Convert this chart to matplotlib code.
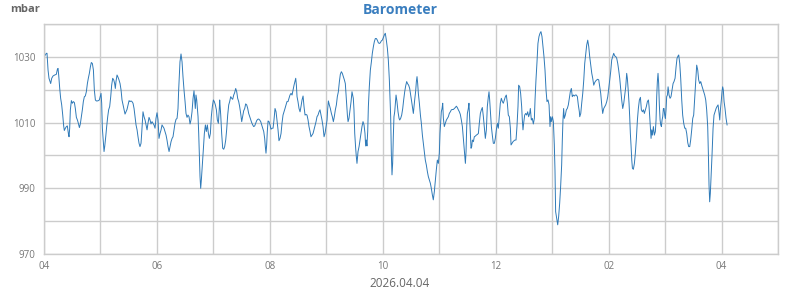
import matplotlib
matplotlib.use("Agg")
import matplotlib.pyplot as plt
import matplotlib.dates as mdates
import pandas as pd

plt.rcParams['font.family'] = ['Open Sans', 'DejaVu Sans']

# minutes after 04:00, pressure in mbar
seg_0400 = [(0.7, 1030.3), (2.5, 1031.1), (3.2, 1031.1), (4.3, 1026.0), (5.3, 1023.5), (7.1, 1021.9),
            (8.2, 1023.5), (9.6, 1024.2), (11.4, 1024.5), (13.1, 1024.7), (14.2, 1026.2), (14.9, 1026.5),
            (15.6, 1024.5), (16.7, 1020.4), (17.7, 1017.4), (18.8, 1015.4), (19.9, 1012.3), (20.9, 1009.0),
            (21.6, 1007.6), (22.7, 1008.3), (23.8, 1008.8), (24.8, 1009.0), (25.9, 1006.7), (26.6, 1005.7),
            (27.3, 1008.3), (28.0, 1013.9), (29.1, 1016.7), (30.1, 1015.9), (31.2, 1016.4), (32.3, 1016.1),
            (33.3, 1014.3), (34.4, 1011.6), (35.5, 1010.8), (36.5, 1009.8), (37.6, 1008.5), (38.6, 1009.6),
            (39.7, 1011.8), (40.8, 1014.0), (41.8, 1016.4), (42.9, 1017.9), (43.9, 1018.1), (45.0, 1019.4),
            (46.1, 1021.9), (47.1, 1023.5), (48.2, 1025.0), (49.3, 1027.0), (50.3, 1028.3), (51.4, 1028.0),
            (52.5, 1026.0), (53.5, 1019.9), (54.6, 1016.9), (55.6, 1016.6), (56.7, 1016.6), (57.8, 1016.7),
            (58.8, 1016.9), (59.9, 1018.1), (60.6, 1018.9), (61.3, 1015.9), (62.0, 1008.3), (63.1, 1003.7),
            (63.8, 1001.2), (64.5, 1002.7), (65.6, 1005.7), (66.6, 1008.8), (67.7, 1011.8), (68.7, 1013.9),
            (69.8, 1014.9), (70.9, 1017.9), (71.9, 1021.4), (73.0, 1023.5), (74.1, 1023.0), (75.1, 1021.9),
            (75.8, 1020.4), (76.5, 1022.5), (77.6, 1024.5), (78.7, 1023.8), (79.7, 1023.0), (80.8, 1021.9),
            (81.9, 1019.9), (82.9, 1016.9), (84.0, 1015.4), (85.0, 1013.9), (86.1, 1012.6), (87.2, 1013.3),
            (88.2, 1014.0), (89.3, 1015.4), (90.4, 1016.7), (91.4, 1016.4), (92.5, 1016.6), (93.5, 1016.4),
            (94.6, 1015.9), (95.7, 1014.3), (96.7, 1011.8), (97.8, 1009.3), (98.9, 1007.8), (99.9, 1005.7),
            (101.0, 1003.7), (102.0, 1002.7), (103.1, 1003.7), (103.8, 1006.7), (104.5, 1010.3), (105.2, 1013.3),
            (106.3, 1011.8), (107.4, 1010.8), (108.4, 1009.3), (109.5, 1007.8), (110.5, 1009.8), (111.6, 1011.6),
            (112.7, 1010.8), (113.7, 1009.6), (114.8, 1010.3), (115.9, 1009.8), (116.9, 1009.3), (118.0, 1008.3),
            (119.0, 1011.3), (120.1, 1013.0), (121.2, 1010.8), (122.2, 1005.2), (123.3, 1006.7), (124.4, 1007.8),
            (125.4, 1009.3), (126.5, 1008.8), (127.5, 1008.3), (128.6, 1007.3), (129.7, 1006.2), (130.7, 1004.7),
            (131.8, 1002.7), (132.9, 1001.2), (133.9, 1002.7), (135.0, 1004.2), (136.1, 1005.2), (137.1, 1005.7),
            (138.2, 1007.8), (139.2, 1009.8), (140.3, 1011.0), (141.4, 1011.3), (142.4, 1014.3), (143.1, 1019.9),
            (143.8, 1024.0), (144.5, 1028.5), (145.6, 1030.9), (146.7, 1028.5), (147.7, 1024.0), (148.8, 1019.9),
            (149.9, 1016.4), (150.9, 1012.8), (152.0, 1011.6), (153.0, 1012.3), (154.1, 1011.8), (155.2, 1009.6),
            (156.2, 1010.8), (157.3, 1013.3), (158.4, 1017.4), (159.4, 1019.7), (160.1, 1016.9), (160.8, 1014.3),
            (161.5, 1018.4), (162.3, 1016.9), (163.0, 1014.3), (163.7, 1011.8), (164.4, 1006.7), (165.1, 999.6),
            (165.8, 993.6), (166.5, 990.0), (167.2, 992.5), (168.3, 997.1), (169.3, 1001.7), (170.4, 1006.7),
            (171.5, 1009.3), (172.5, 1007.3), (173.6, 1009.3), (174.7, 1006.7), (175.7, 1005.2), (176.8, 1006.7),
            (177.8, 1011.8), (178.9, 1014.9), (180.0, 1016.9), (181.0, 1016.4), (182.1, 1015.4), (183.2, 1013.9),
            (184.2, 1010.8), (185.3, 1009.8), (186.3, 1014.3)]

seg_0700 = [(186.7, 1016.9), (187.8, 1012.3), (188.8, 1006.7), (189.9, 1002.2), (191.0, 1001.9), (192.0, 1002.7),
            (193.1, 1004.7), (194.1, 1007.8), (195.2, 1012.3), (196.3, 1015.4), (197.3, 1016.4), (198.4, 1017.9),
            (199.5, 1017.4), (200.5, 1017.1), (201.6, 1018.4), (202.6, 1019.1), (203.7, 1020.4), (204.8, 1019.4),
            (205.8, 1017.4), (206.9, 1016.4), (207.9, 1014.9), (209.0, 1012.8), (210.1, 1010.3), (211.1, 1011.8),
            (212.2, 1013.6), (213.3, 1014.3), (214.3, 1015.7), (215.4, 1015.4), (216.5, 1014.3), (217.5, 1012.8),
            (218.6, 1011.8), (219.6, 1011.0), (220.7, 1010.0), (221.8, 1009.3), (222.8, 1008.8), (223.9, 1009.0),
            (225.0, 1009.8), (226.0, 1010.6), (227.1, 1011.0), (228.1, 1011.1), (229.2, 1010.8), (230.3, 1010.3),
            (231.3, 1009.3), (232.4, 1008.3), (233.5, 1007.3), (234.5, 1005.2), (235.2, 1002.7), (235.9, 1000.7),
            (236.6, 1003.2), (237.3, 1007.3), (238.1, 1010.5), (239.1, 1010.3), (240.2, 1009.3), (241.2, 1008.0),
            (242.3, 1008.3), (243.4, 1008.3), (244.4, 1010.8), (245.5, 1014.3), (246.6, 1013.3), (247.6, 1010.8),
            (248.7, 1007.8), (249.7, 1004.5), (250.8, 1005.2), (251.9, 1006.7), (252.9, 1009.8), (254.0, 1012.3),
            (255.1, 1013.3), (256.1, 1014.3), (257.2, 1015.4), (258.2, 1016.4), (259.3, 1016.4), (260.4, 1017.4),
            (261.4, 1018.4), (262.5, 1018.9), (263.6, 1018.4), (264.6, 1019.9), (265.7, 1021.4), (266.7, 1022.5),
            (267.5, 1023.5), (268.2, 1021.4), (268.9, 1017.9), (269.9, 1016.4), (271.0, 1014.3), (272.1, 1013.3),
            (273.1, 1014.9), (274.2, 1016.9), (275.3, 1018.1), (276.3, 1014.9), (277.4, 1012.3), (278.4, 1012.5),
            (279.5, 1012.3), (280.6, 1010.8), (281.6, 1008.8), (282.7, 1007.3), (283.7, 1005.7), (284.8, 1006.2),
            (285.9, 1006.7), (286.9, 1007.8), (288.0, 1009.0), (289.1, 1010.3), (290.1, 1011.8), (291.2, 1012.3),
            (292.3, 1013.3), (293.3, 1013.9), (294.4, 1012.3), (295.4, 1010.8), (296.5, 1008.8), (297.6, 1005.7),
            (298.6, 1006.7), (299.7, 1008.8), (300.8, 1010.8), (301.5, 1014.3), (302.2, 1016.6), (303.2, 1015.4),
            (304.3, 1014.3), (305.4, 1012.8), (306.4, 1011.8), (307.5, 1010.3), (308.5, 1011.8), (309.6, 1013.9),
            (310.7, 1015.4), (311.7, 1017.9), (312.8, 1019.4), (313.9, 1022.5), (314.9, 1024.7), (316.0, 1025.5),
            (317.0, 1025.0), (318.1, 1024.0), (319.2, 1023.0), (320.2, 1021.9), (320.9, 1018.9), (321.6, 1015.4),
            (322.4, 1012.3), (323.1, 1010.3), (324.1, 1011.3), (325.2, 1013.9), (326.3, 1016.4), (327.3, 1019.4),
            (328.0, 1018.4), (328.7, 1017.4), (329.4, 1013.9), (330.2, 1006.7), (331.2, 1002.2), (331.9, 999.6),
            (332.6, 997.6), (333.7, 1001.2), (334.8, 1002.7), (335.8, 1004.7), (336.9, 1006.7), (337.9, 1008.8),
            (339.0, 1010.3), (340.1, 1009.3), (341.1, 1006.7), (341.8, 1002.9), (342.5, 1004.7), (343.2, 1002.9),
            (344.0, 1007.3), (344.7, 1014.9), (345.7, 1020.9), (346.8, 1026.0), (347.9, 1028.5), (348.9, 1031.1),
            (350.0, 1033.1), (351.0, 1034.6), (352.1, 1035.6), (353.2, 1035.6), (354.2, 1035.1), (355.3, 1034.3),
            (356.4, 1034.1), (357.4, 1034.3), (358.5, 1034.9), (359.5, 1035.1), (360.6, 1035.9), (361.7, 1036.7),
            (362.7, 1037.2), (363.8, 1035.1), (364.9, 1032.6), (365.9, 1029.1), (367.0, 1023.0), (367.7, 1016.9),
            (368.4, 1011.8), (369.1, 1000.7), (369.8, 994.1), (370.5, 997.6), (371.2, 1005.7), (371.9, 1011.8),
            (372.7, 1013.3), (373.4, 1015.9), (374.1, 1018.4), (375.1, 1016.4), (376.2, 1013.3), (377.3, 1011.3)]

seg_1015 = [(378.0, 1010.8), (379.0, 1011.3), (380.1, 1012.3), (381.2, 1014.3), (382.2, 1016.9), (383.3, 1019.4),
            (384.3, 1021.1), (385.4, 1022.5), (386.5, 1021.8), (387.5, 1021.4), (388.6, 1020.4), (389.7, 1018.4),
            (390.7, 1016.4), (391.8, 1014.3), (392.5, 1012.8), (393.2, 1014.9), (393.9, 1016.9), (395.0, 1019.7),
            (395.7, 1022.5), (396.4, 1024.0), (397.1, 1021.9), (397.8, 1018.9), (398.9, 1015.9), (400.0, 1012.3),
            (401.0, 1009.8), (402.1, 1006.2), (403.1, 1003.7), (404.2, 1000.7), (405.2, 998.6), (406.3, 997.1),
            (407.4, 995.1), (408.4, 993.6), (409.5, 992.5), (410.6, 991.5), (411.6, 990.0), (412.7, 988.0),
            (413.7, 986.5), (414.8, 989.0), (415.9, 992.5), (416.9, 995.6), (418.0, 998.6), (419.1, 997.6),
            (420.1, 1000.7), (420.8, 1006.7), (421.5, 1010.3), (422.2, 1013.3), (423.0, 1014.3), (423.7, 1015.9),
            (424.4, 1011.3), (425.4, 1008.8), (426.5, 1009.8), (427.6, 1010.8), (428.6, 1011.3), (429.7, 1011.8),
            (430.7, 1012.8), (431.8, 1013.3), (432.9, 1013.9), (433.9, 1014.0), (435.0, 1014.0), (436.1, 1014.3),
            (437.1, 1014.6), (438.2, 1015.0), (439.2, 1014.6), (440.3, 1013.9), (441.4, 1013.3), (442.4, 1012.5),
            (443.5, 1010.8), (444.6, 1008.8), (445.6, 1005.2), (446.3, 1002.7), (447.0, 1000.2), (447.8, 997.6),
            (448.5, 1001.2), (449.2, 1008.8), (449.9, 1012.8), (450.9, 1014.3), (451.6, 1015.9), (452.4, 1010.8),
            (453.1, 1005.7), (453.8, 1002.2), (454.5, 1002.7), (455.2, 1004.7), (456.3, 1004.2), (457.3, 1005.7),
            (458.4, 1005.9), (459.4, 1006.2), (460.5, 1006.4), (461.6, 1006.7), (462.6, 1009.8), (463.7, 1012.8),
            (464.8, 1013.9), (465.8, 1014.6), (466.9, 1011.8), (468.0, 1008.3), (469.0, 1005.2), (470.1, 1007.8),
            (471.1, 1014.9), (472.2, 1017.9), (472.9, 1019.4), (473.6, 1016.9), (474.3, 1013.9), (475.4, 1008.8),
            (476.4, 1006.2), (477.5, 1003.7), (478.6, 1003.7), (479.6, 1005.2), (480.7, 1007.8), (481.8, 1009.8),
            (482.8, 1008.3), (483.9, 1012.3), (484.9, 1015.9), (486.0, 1017.4), (487.1, 1016.4), (488.1, 1015.9),
            (489.2, 1016.9), (490.3, 1017.9), (491.3, 1018.4), (492.4, 1015.9), (493.4, 1012.3), (494.5, 1011.8),
            (495.6, 1008.3), (496.3, 1003.2), (497.3, 1003.7), (498.4, 1004.2), (499.5, 1004.5), (500.5, 1004.7),
            (501.6, 1004.7), (502.6, 1008.8), (503.7, 1014.9), (504.4, 1021.4), (505.5, 1020.9), (506.5, 1018.9),
            (507.6, 1014.9), (508.3, 1010.8), (509.0, 1007.8), (509.7, 1009.8), (510.8, 1012.3), (511.9, 1012.8),
            (512.9, 1012.3), (514.0, 1013.3), (515.0, 1011.8), (516.1, 1012.8), (516.8, 1014.3), (517.9, 1010.8),
            (518.9, 1011.3), (520.0, 1009.6), (521.1, 1011.3), (521.8, 1016.9), (522.8, 1023.0), (523.9, 1028.5),
            (524.9, 1034.1), (526.0, 1036.2), (527.1, 1037.2), (528.1, 1037.7), (529.2, 1036.2), (530.3, 1033.1),
            (531.3, 1030.1), (532.4, 1026.0), (533.5, 1019.9), (534.5, 1016.4), (535.6, 1016.9), (536.7, 1015.4),
            (537.7, 1008.8), (538.4, 1011.8), (539.1, 1010.3), (540.2, 1011.8), (541.3, 1010.3), (542.3, 1003.2),
            (543.0, 995.6), (543.7, 982.9), (544.8, 980.9), (545.9, 978.9), (546.9, 981.4), (548.0, 985.5),
            (549.0, 990.5), (550.1, 997.1), (550.8, 1004.7), (551.5, 1010.8), (552.2, 1014.3), (552.9, 1011.3),
            (554.0, 1012.3), (555.1, 1013.9), (556.1, 1014.3), (557.2, 1015.4), (558.3, 1017.4), (559.3, 1019.4),
            (560.4, 1020.4), (561.4, 1017.9), (562.5, 1018.4), (563.6, 1018.1), (564.6, 1018.4), (565.7, 1018.4),
            (566.8, 1017.9), (567.8, 1015.4), (568.9, 1013.3)]

seg_1330 = [(569.3, 1011.8), (570.4, 1012.8), (571.4, 1015.9), (572.5, 1018.9), (573.6, 1023.0), (574.6, 1028.0),
            (575.7, 1031.1), (576.7, 1033.6), (577.8, 1035.1), (578.9, 1033.1), (579.9, 1030.1), (581.0, 1027.5),
            (582.1, 1025.0), (583.1, 1023.5), (584.2, 1021.4), (585.2, 1022.2), (586.3, 1022.7), (587.4, 1023.0),
            (588.4, 1023.2), (589.5, 1023.0), (590.6, 1020.9), (591.6, 1018.9), (592.7, 1015.4), (593.7, 1012.8),
            (594.8, 1014.3), (595.9, 1014.9), (596.9, 1015.4), (598.0, 1016.4), (599.1, 1017.9), (600.1, 1020.4),
            (601.2, 1023.0), (602.2, 1025.5), (603.3, 1029.1), (604.4, 1030.1), (605.4, 1031.1), (606.5, 1030.3),
            (607.6, 1030.1), (608.6, 1029.6), (609.7, 1028.0), (610.7, 1026.0), (611.8, 1023.5), (612.9, 1019.9),
            (613.9, 1016.9), (615.0, 1014.3), (616.1, 1015.9), (617.1, 1018.4), (618.2, 1020.9), (619.2, 1025.0),
            (619.9, 1023.5), (620.7, 1020.4), (621.7, 1015.9), (622.4, 1011.8), (623.1, 1006.7), (623.8, 1003.2),
            (624.6, 998.6), (625.3, 996.1), (626.3, 995.8), (627.4, 997.6), (628.4, 1000.7), (629.5, 1005.2),
            (630.6, 1010.8), (631.6, 1014.3), (632.7, 1016.9), (633.8, 1017.7), (634.8, 1013.9), (635.9, 1013.3),
            (637.0, 1013.9), (638.0, 1012.8), (639.1, 1013.9), (640.1, 1014.9), (641.2, 1016.4), (642.3, 1016.9),
            (643.0, 1014.9), (643.7, 1011.8), (644.4, 1008.3), (645.1, 1005.2), (645.8, 1007.8), (646.5, 1006.2),
            (647.6, 1008.8), (648.6, 1006.2), (649.7, 1007.3), (650.4, 1010.8), (651.1, 1017.9), (651.8, 1022.5),
            (652.5, 1025.0), (653.2, 1021.9), (653.9, 1015.4), (654.7, 1010.8), (655.4, 1009.3), (656.1, 1008.8),
            (656.8, 1010.8), (657.5, 1011.8), (658.2, 1014.3), (658.9, 1014.3), (659.6, 1012.3), (660.3, 1011.3),
            (661.0, 1013.9), (661.7, 1017.9), (662.5, 1018.4), (663.2, 1020.9), (664.2, 1018.4), (665.3, 1017.4),
            (666.3, 1017.9), (667.4, 1019.9), (668.5, 1021.9), (669.5, 1022.5), (670.6, 1023.5), (671.7, 1027.0),
            (672.7, 1029.6), (673.8, 1030.3), (674.5, 1030.6), (675.6, 1028.0), (676.6, 1023.5), (677.7, 1016.9),
            (678.7, 1012.3), (679.8, 1009.8), (680.9, 1008.3), (681.9, 1008.3), (683.0, 1006.7), (684.1, 1003.9),
            (685.1, 1002.7), (686.2, 1002.7), (687.2, 1004.7), (688.3, 1007.8), (689.4, 1011.3), (690.4, 1012.3),
            (691.5, 1017.4), (692.6, 1023.0), (693.6, 1027.5), (694.7, 1026.0), (695.7, 1023.0), (696.8, 1021.9),
            (697.9, 1022.5), (698.9, 1021.4), (700.0, 1020.4), (701.1, 1019.4), (702.1, 1018.4), (703.2, 1016.9),
            (704.2, 1013.9), (705.3, 1008.8), (706.0, 1000.7), (706.7, 991.0), (707.4, 985.9), (708.1, 988.5),
            (708.9, 993.6), (709.9, 1000.2), (711.0, 1008.3), (712.0, 1012.3), (713.1, 1013.3), (714.2, 1014.3),
            (715.2, 1014.9), (716.3, 1015.4), (717.4, 1012.8), (718.1, 1010.8), (718.8, 1013.9), (719.8, 1016.9),
            (720.5, 1019.4), (721.2, 1020.9), (721.9, 1019.9), (722.7, 1016.4), (723.7, 1014.3), (724.8, 1011.3),
            (725.9, 1009.3)]

start = pd.Timestamp('2026-04-04 04:00')
end = pd.Timestamp('2026-04-04 17:00')

df = pd.DataFrame(seg_0400 + seg_0700 + seg_1015 + seg_1330, columns=['minute', 'mbar'])
df['time'] = start + pd.to_timedelta(df['minute'], unit='min')

fig = plt.figure(figsize=(8, 2.9), dpi=100)
ax = fig.add_axes([0.055, 0.124, 0.9175, 0.793])

ax.plot(df['time'], df['mbar'], color='#2f7ab8', linewidth=0.7)

ax.set_xlim(start, end)
ax.set_ylim(970, 1040)

ax.xaxis.set_major_locator(mdates.HourLocator(byhour=range(0, 24, 2)))
ax.xaxis.set_major_formatter(mdates.DateFormatter('%I'))
ax.xaxis.set_minor_locator(mdates.HourLocator())
ax.set_yticks([970, 990, 1010, 1030])
ax.set_yticks(range(970, 1041, 10), minor=True)

ax.grid(True, which='both', color='#cccccc', linewidth=1)
ax.set_axisbelow(True)
ax.tick_params(which='both', length=0, labelsize=7, labelcolor='#777777')
ax.tick_params(axis='x', pad=5)
ax.tick_params(axis='y', pad=6)
for s in ax.spines.values():
    s.set_color('#cccccc')
    s.set_linewidth(1)

fig.text(0.5, 0.966, 'Barometer', ha='center', va='center', fontsize=10,
         fontweight='bold', color='#3a7ebf')
fig.text(0.013, 0.966, 'mbar', ha='left', va='center', fontsize=8,
         fontweight='bold', color='#666666')
fig.text(0.5, 0.024, '2026.04.04', ha='center', va='center', fontsize=8.5, color='#666666')

fig.savefig('out.png', dpi=100)
